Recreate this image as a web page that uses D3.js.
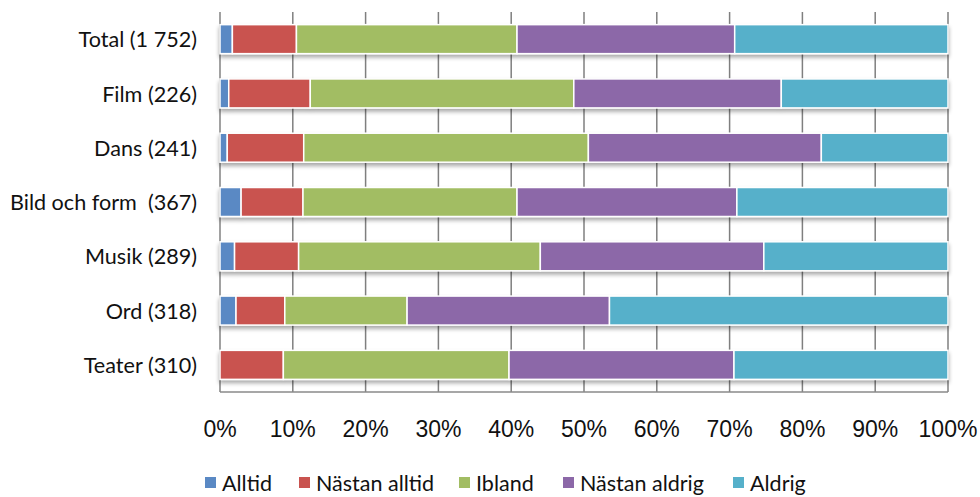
<!DOCTYPE html>
<html>
<head>
<meta charset="utf-8">
<script src="https://cdn.jsdelivr.net/npm/d3@7"></script>
<style>
  body { margin: 0; background: #fff; }
  svg { display: block; }
  .cat-label { font-family: Lato, 'Open Sans', sans-serif; font-size: 21.6px; fill: #111; white-space: pre; }
  .tick-label { font-family: 'Liberation Sans', Arial, sans-serif; font-size: 23px; fill: #111; }
  .legend-label { font-family: Lato, 'Open Sans', sans-serif; font-size: 21.5px; fill: #111; }
</style>
</head>
<body>
<div id="chart"></div>
<script>
// categories top to bottom
const categories = ['Total (1 752)', 'Film (226)', 'Dans (241)', 'Bild och form  (367)', 'Musik (289)', 'Ord (318)', 'Teater (310)'];
const seriesNames = ['Alltid', 'Nästan alltid', 'Ibland', 'Nästan aldrig', 'Aldrig'];
// percent per series, same order as categories
const alltid       = [1.7, 1.2, 1.0, 2.9, 2.0, 2.2, 0.0];
const nastanAlltid = [8.8, 11.2, 10.5, 8.5, 8.8, 6.7, 8.7];
const ibland       = [30.3, 36.2, 39.1, 29.4, 33.2, 16.8, 31.0];
const nastanAldrig = [29.9, 28.5, 32.0, 30.2, 30.7, 27.8, 30.9];
const aldrig       = [29.3, 22.9, 17.4, 29.0, 25.3, 46.5, 29.4];
const tickValues = [0, 10, 20, 30, 40, 50, 60, 70, 80, 90, 100];

const colors = ['#5a89c4', '#c9534f', '#a2bd63', '#8c68a8', '#56b0ca'];

const width = 980, height = 497;
const svg = d3.select('#chart').append('svg').attr('width', width).attr('height', height);

// soft shadow under bars
const defs = svg.append('defs');
const filter = defs.append('filter').attr('id', 'shadow')
  .attr('x', '-5%').attr('y', '-20%').attr('width', '110%').attr('height', '160%');
filter.append('feGaussianBlur').attr('in', 'SourceAlpha').attr('stdDeviation', 2.2);
filter.append('feOffset').attr('dx', 0).attr('dy', 3).attr('result', 'off');
filter.append('feComponentTransfer').append('feFuncA').attr('type', 'linear').attr('slope', 0.35);
const merge = filter.append('feMerge');
merge.append('feMergeNode');
merge.append('feMergeNode').attr('in', 'SourceGraphic');

const x = d3.scaleLinear().domain([0, 100]).range([220, 948]);
const y = d3.scaleBand().domain(categories).range([12, 392]).paddingInner(0.466).paddingOuter(0.233);

// data rows
const rows = categories.map((c, i) => ({
  cat: c,
  Alltid: alltid[i], 'Nästan alltid': nastanAlltid[i], Ibland: ibland[i],
  'Nästan aldrig': nastanAldrig[i], Aldrig: aldrig[i]
}));
const stacked = d3.stack().keys(seriesNames)(rows);

// grid lines
svg.append('g').selectAll('line')
  .data(tickValues.slice(1))
  .enter().append('line')
  .attr('x1', d => x(d)).attr('x2', d => x(d))
  .attr('y1', 12).attr('y2', 392)
  .attr('stroke', '#7f7f7f').attr('stroke-width', 1.5);

// axes lines
svg.append('line').attr('x1', x(0)).attr('x2', x(0)).attr('y1', 12).attr('y2', 392)
  .attr('stroke', '#8a8a8a').attr('stroke-width', 1.6);
svg.append('line').attr('x1', x(0)).attr('x2', x(100)).attr('y1', 392).attr('y2', 392)
  .attr('stroke', '#8a8a8a').attr('stroke-width', 1.6);

// bars
const barG = svg.append('g');
barG.selectAll('g.row')
  .data(categories)
  .enter().append('g')
  .attr('class', 'row')
  .attr('filter', 'url(#shadow)')
  .each(function(cat, i) {
    d3.select(this).selectAll('rect')
      .data(stacked.map(s => s[i]))
      .enter().append('rect')
      .attr('x', d => x(d[0]))
      .attr('width', d => Math.max(0, x(d[1]) - x(d[0])))
      .attr('y', y(cat))
      .attr('height', y.bandwidth())
      .attr('fill', (d, k) => colors[k])
      .attr('stroke', '#fff')
      .attr('stroke-width', 1.5)
      .style('display', d => d[1] - d[0] > 0 ? null : 'none');
  });

// category labels
svg.append('g').selectAll('text')
  .data(categories)
  .enter().append('text')
  .attr('class', 'cat-label')
  .attr('x', 197)
  .attr('y', d => y(d) + y.bandwidth() / 2)
  .attr('dy', '0.38em')
  .attr('text-anchor', 'end')
  .text(d => d);

// x tick labels
svg.append('g').selectAll('text')
  .data(tickValues)
  .enter().append('text')
  .attr('class', 'tick-label')
  .attr('x', d => x(d))
  .attr('y', 437)
  .attr('text-anchor', 'middle')
  .text(d => d + '%');

// legend (kept just inside the bottom edge)
const legendX = [205, 299, 459, 563, 733];
const legend = svg.append('g');
seriesNames.forEach((name, i) => {
  legend.append('rect')
    .attr('x', legendX[i]).attr('y', 477)
    .attr('width', 11).attr('height', 11)
    .attr('fill', colors[i]);
  legend.append('text')
    .attr('class', 'legend-label')
    .attr('x', legendX[i] + 17).attr('y', 491)
    .text(name);
});
</script>
</body>
</html>
